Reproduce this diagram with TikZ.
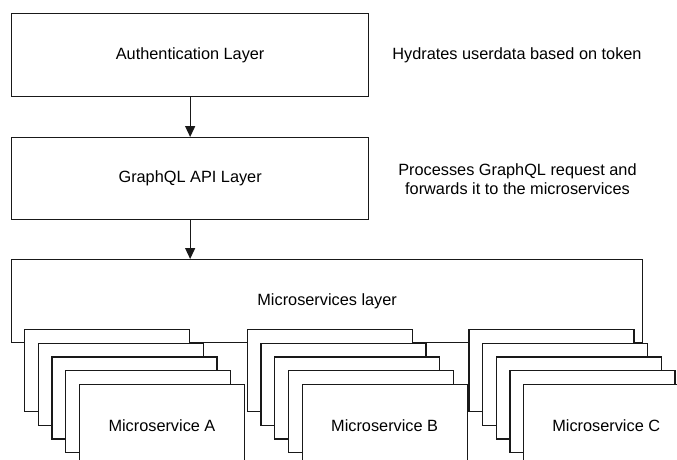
\documentclass[tikz,border=0pt]{standalone}
\usepackage{fontspec}
\setmainfont{Liberation Sans}
\usetikzlibrary{arrows.meta}
\begin{document}
\begin{tikzpicture}[x=1pt,y=-1pt,
  txt/.style={font=\fontsize{16.3}{18.5}\selectfont},
  box/.style={txt, draw=black!90, line width=1.3pt, fill=white, inner sep=0pt, anchor=north west},
  msbox/.style={box, minimum width=165pt, minimum height=82pt},
  lbl/.style={txt, align=center},
  arr/.style={-{Triangle[length=11pt,width=10pt]}, line width=1.3pt, draw=black!90, fill=black!90}]
\useasboundingbox (0,0) rectangle (677,459);
\clip (0,0) rectangle (677,459);
\node[box, minimum width=357pt, minimum height=83pt] (auth) at (11,13) {Authentication Layer};
\node[box, minimum width=357pt, minimum height=82pt] (gql) at (11,137) {GraphQL API Layer};
\node[lbl] (hyd) at (517,55) {Hydrates userdata based on token};
\node[lbl] (proc) at (517.5,179) {Processes GraphQL request and\\forwards it to the microservices};
\node[box, minimum width=631pt, minimum height=83pt] (ms) at (11,259) {Microservices layer};
\draw[arr] (auth) -- (gql);
\draw[arr] (gql.south) -- (gql.south |- ms.north);
\foreach \g/\x in {A/24, B/246.7, C/468.3} {
  \foreach \i in {1,...,4} {
    \node[msbox] (\g\i) at ({\x+(\i-1)*13.7},{329+(\i-1)*13.7}) {};
  }
  \node[msbox] (\g5) at ({\x+4*13.7},{329+4*13.7}) {Microservice \g};
}
\end{tikzpicture}
\end{document}
